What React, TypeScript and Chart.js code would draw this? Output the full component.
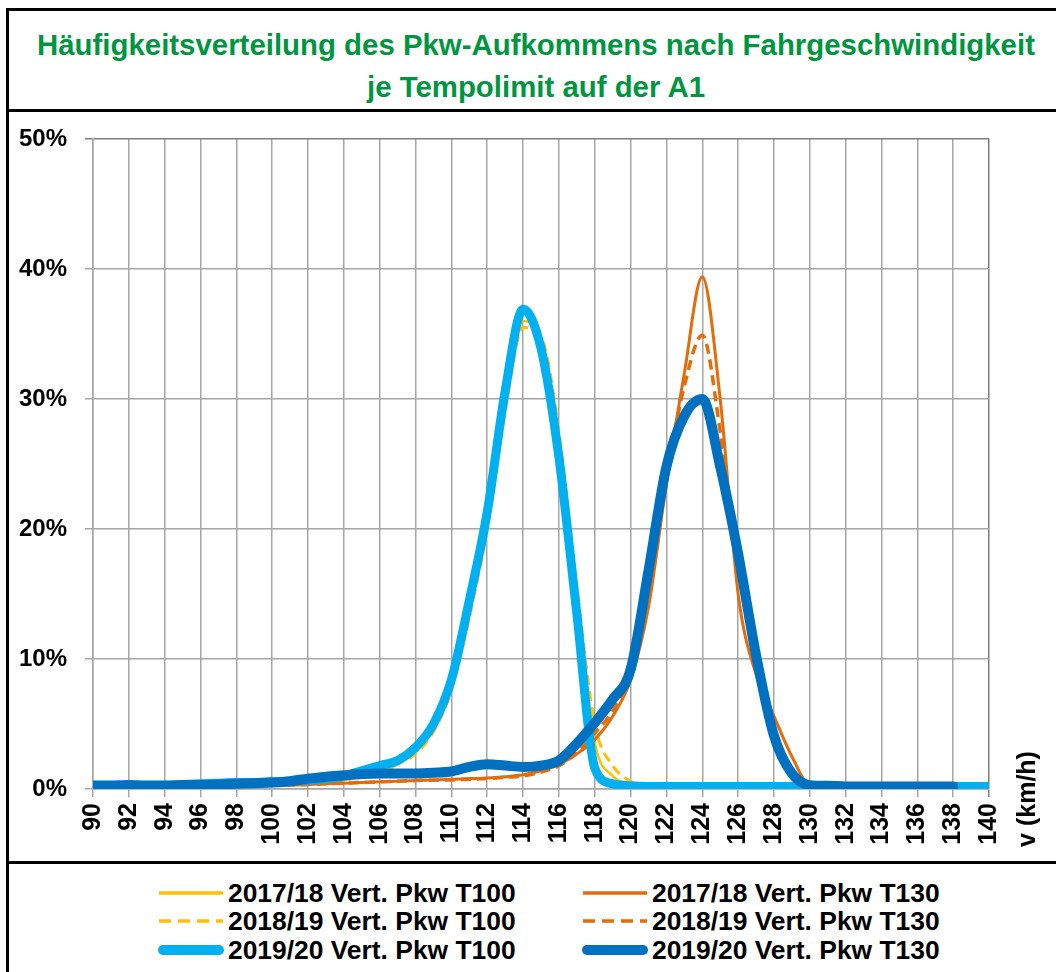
import React, { useEffect, useRef } from "react";
import { Chart, registerables } from "chart.js";

Chart.register(...registerables);

const FONT = "'Liberation Sans', Arial, sans-serif";

const TITLE_LINES = [
  "Häufigkeitsverteilung des Pkw-Aufkommens nach Fahrgeschwindigkeit",
  "je Tempolimit auf der A1",
];

const X_TITLE = "v (km/h)";

const SPEEDS = [
  90, 91, 92, 93, 94, 95, 96, 97, 98, 99, 100, 101, 102, 103, 104, 105, 106, 107, 108, 109,
  110, 111, 112, 113, 114, 115, 116, 117, 118, 119, 120, 121, 122, 123, 124, 125, 126, 127, 128, 129,
  130, 131, 132, 133, 134, 135, 136, 137, 138, 139, 140,
];

// T100 series (90..140)
const T100_1718 = [
  0.2, 0.2, 0.2, 0.2, 0.2, 0.2, 0.25, 0.25, 0.3, 0.3, 0.35, 0.4, 0.45, 0.55, 0.7, 0.95, 1.3, 1.9, 2.9, 4.6,
  7.9, 13.6, 20.6, 29.6, 36.0, 34.6, 27.0, 15.0, 3.6, 1.0, 0.4, 0.2, 0.2, 0.2, 0.2, 0.2, 0.2, 0.2, 0.2, 0.2,
  0.2, 0.2, 0.2, 0.2, 0.2, 0.2, 0.2, 0.2, 0.2, 0.2, 0.2,
];
const T100_1819 = [
  0.2, 0.2, 0.2, 0.2, 0.2, 0.2, 0.25, 0.25, 0.3, 0.3, 0.35, 0.4, 0.45, 0.55, 0.7, 0.95, 1.3, 1.9, 2.7, 4.4,
  7.6, 13.2, 20.0, 29.0, 35.5, 34.8, 27.5, 15.5, 5.0, 1.8, 0.6, 0.25, 0.2, 0.2, 0.2, 0.2, 0.2, 0.2, 0.2, 0.2,
  0.2, 0.2, 0.2, 0.2, 0.2, 0.2, 0.2, 0.2, 0.2, 0.2, 0.2,
];
const T100_1920 = [
  0.3, 0.3, 0.3, 0.3, 0.3, 0.35, 0.4, 0.45, 0.5, 0.5, 0.55, 0.6, 0.7, 0.8, 1.0, 1.4, 1.8, 2.2, 3.2, 5.0,
  8.4, 14.5, 21.3, 30.6, 36.9, 33.9, 25.5, 13.5, 1.6, 0.4, 0.25, 0.2, 0.2, 0.2, 0.2, 0.2, 0.2, 0.2, 0.2, 0.2,
  0.2, 0.2, 0.2, 0.2, 0.2, 0.2, 0.2, 0.2, 0.2, 0.2, 0.2,
];

// T130 series (90..138)
const T130_1718 = [
  0.2, 0.2, 0.2, 0.2, 0.2, 0.2, 0.2, 0.25, 0.25, 0.25, 0.3, 0.3, 0.35, 0.4, 0.45, 0.5, 0.55, 0.6, 0.65, 0.7,
  0.75, 0.8, 0.85, 0.95, 1.1, 1.4, 1.9, 2.7, 3.8, 5.6, 8.4, 14.0, 23.5, 32.0, 39.4, 30.0, 15.0, 8.8, 5.6, 2.5,
  0.3, 0.2, 0.2, 0.2, 0.2, 0.2, 0.2, 0.2, 0.2,
];
const T130_1819 = [
  0.2, 0.2, 0.2, 0.2, 0.2, 0.2, 0.2, 0.25, 0.25, 0.25, 0.3, 0.3, 0.35, 0.4, 0.45, 0.5, 0.55, 0.6, 0.65, 0.68,
  0.7, 0.75, 0.8, 0.9, 1.0, 1.3, 1.8, 2.8, 4.3, 6.0, 8.8, 15.5, 24.0, 31.0, 34.9, 27.5, 17.0, 9.5, 4.5, 1.5,
  0.3, 0.2, 0.2, 0.2, 0.2, 0.2, 0.2, 0.2, 0.2,
];
const T130_1920 = [
  0.25, 0.25, 0.3, 0.25, 0.25, 0.3, 0.3, 0.35, 0.4, 0.45, 0.5, 0.6, 0.8, 0.95, 1.05, 1.15, 1.2, 1.2, 1.2, 1.25,
  1.35, 1.7, 1.9, 1.8, 1.7, 1.8, 2.2, 3.5, 5.1, 6.9, 9.2, 16.8, 24.8, 28.7, 30.0, 24.8, 18.1, 10.3, 4.1, 1.2,
  0.3, 0.25, 0.2, 0.2, 0.2, 0.2, 0.2, 0.2, 0.2,
];

const Y_TICKS = [0, 10, 20, 30, 40, 50];

const YELLOW = "#FFC000";
const ORANGE = "#E46C0A";
const LIGHT_BLUE = "#00B0F0";
const DARK_BLUE = "#0070C0";

type Series = {
  label: string;
  values: number[];
  color: string;
  width: number;
  dash: number[];
  order: number;
};

const SERIES: Series[] = [
  { label: "2017/18 Vert. Pkw T100", values: T100_1718, color: YELLOW, width: 2.5, dash: [], order: 5 },
  { label: "2018/19 Vert. Pkw T100", values: T100_1819, color: YELLOW, width: 3, dash: [10, 6], order: 4 },
  { label: "2019/20 Vert. Pkw T100", values: T100_1920, color: LIGHT_BLUE, width: 9, dash: [], order: 1 },
  { label: "2017/18 Vert. Pkw T130", values: T130_1718, color: ORANGE, width: 3, dash: [], order: 3 },
  { label: "2018/19 Vert. Pkw T130", values: T130_1819, color: ORANGE, width: 3.5, dash: [10, 6], order: 2 },
  { label: "2019/20 Vert. Pkw T130", values: T130_1920, color: DARK_BLUE, width: 10, dash: [], order: 0 },
];

const xTitlePlugin = {
  id: "xTitleRight",
  afterDraw(chart: any) {
    const { ctx, chartArea } = chart;
    ctx.save();
    ctx.translate(chartArea.right + 39, chartArea.bottom + 10);
    ctx.rotate(-Math.PI / 2);
    ctx.font = `bold 25px ${FONT}`;
    ctx.fillStyle = "#000";
    ctx.textAlign = "center";
    ctx.textBaseline = "middle";
    ctx.fillText(X_TITLE, 0, 0);
    ctx.restore();
  },
};

function LegendSample({ s }: { s: Series }) {
  const thick = s.width > 5;
  return (
    <svg width={70} height={20} style={{ position: "absolute", left: 0, top: -10 }}>
      <line
        x1={thick ? 6 : 2}
        y1={10}
        x2={thick ? 62 : 66}
        y2={10}
        stroke={s.color}
        strokeWidth={thick ? 10 : 3.5}
        strokeLinecap={thick ? "round" : "butt"}
        strokeDasharray={s.dash.length ? "12 7" : undefined}
      />
    </svg>
  );
}

export default function App() {
  const canvasRef = useRef<HTMLCanvasElement | null>(null);

  useEffect(() => {
    const canvas = canvasRef.current;
    if (!canvas) return;
    const chart = new Chart(canvas, {
      type: "line",
      data: {
        datasets: SERIES.map((s) => ({
          label: s.label,
          data: s.values.map((v, i) => ({ x: SPEEDS[i], y: v })),
          borderColor: s.color,
          backgroundColor: s.color,
          borderWidth: s.width,
          borderDash: s.dash,
          borderJoinStyle: "round" as const,
          borderCapStyle: (s.width > 5 ? "round" : "butt") as any,
          pointRadius: 0,
          pointHoverRadius: 0,
          cubicInterpolationMode: "monotone" as const,
          fill: false,
          order: s.order,
        })),
      },
      plugins: [xTitlePlugin],
      options: {
        responsive: false,
        animation: false,
        devicePixelRatio: 1,
        layout: { autoPadding: false, padding: { left: 0, right: 67, top: 27, bottom: 0 } },
        plugins: {
          legend: { display: false },
          tooltip: { enabled: false },
          title: { display: false },
        },
        scales: {
          x: {
            type: "linear",
            min: 90,
            max: 140,
            afterFit: (scale: any) => {
              scale.height = 72;
              scale.paddingLeft = 0;
              scale.paddingRight = 0;
            },
            ticks: {
              stepSize: 2,
              autoSkip: false,
              maxRotation: 90,
              minRotation: 90,
              padding: 6,
              color: "#000",
              font: { family: FONT, size: 25, weight: "bold" },
            },
            grid: {
              color: (ctx: any) => (ctx.tick && ctx.tick.value === 140 ? "#7F7F7F" : "#A6A6A6"),
              lineWidth: 1.5,
              tickLength: 8,
            },
            border: { color: "#A6A6A6", width: 1.5 },
          },
          y: {
            type: "linear",
            min: 0,
            max: 50,
            afterFit: (scale: any) => {
              scale.width = 93;
              scale.paddingTop = 0;
              scale.paddingBottom = 0;
            },
            afterBuildTicks: (scale: any) => {
              scale.ticks = Y_TICKS.map((v) => ({ value: v }));
            },
            ticks: {
              padding: 18,
              color: "#000",
              callback: (v: any) => `${v}%`,
              font: { family: FONT, size: 24, weight: "bold" },
            },
            grid: {
              color: (ctx: any) => (ctx.tick && ctx.tick.value === 50 ? "#7F7F7F" : "#A6A6A6"),
              lineWidth: 1.5,
              tickLength: 8,
            },
            border: { color: "#A6A6A6", width: 1.5 },
          },
        },
      },
    });
    return () => chart.destroy();
  }, []);

  const legendRows = [893, 921, 950];
  const leftCol = [SERIES[0], SERIES[1], SERIES[2]];
  const rightCol = [SERIES[3], SERIES[4], SERIES[5]];

  return (
    <div
      style={{
        position: "absolute",
        left: 0,
        top: 0,
        width: 1056,
        height: 972,
        background: "#fff",
        fontFamily: FONT,
        overflow: "hidden",
      }}
    >
      {TITLE_LINES.map((t, i) => (
        <div
          key={t}
          style={{
            position: "absolute",
            left: 8,
            width: 1056,
            top: 25 + i * 42,
            height: 40,
            lineHeight: "40px",
            textAlign: "center",
            color: "#00963F",
            fontWeight: "bold",
            fontSize: 29.4,
            whiteSpace: "nowrap",
          }}
        >
          {t}
        </div>
      ))}

      <canvas
        ref={canvasRef}
        width={1056}
        height={749}
        style={{ position: "absolute", left: 0, top: 112, width: 1056, height: 749 }}
      />

      {legendRows.map((cy, i) => (
        <React.Fragment key={i}>
          <div style={{ position: "absolute", left: 157, top: cy }}>
            <LegendSample s={leftCol[i]} />
          </div>
          <div
            style={{
              position: "absolute",
              left: 228,
              top: cy - 15,
              height: 30,
              lineHeight: "30px",
              fontSize: 26.4,
              fontWeight: "bold",
              color: "#000",
              whiteSpace: "nowrap",
            }}
          >
            {leftCol[i].label}
          </div>
          <div style={{ position: "absolute", left: 581, top: cy }}>
            <LegendSample s={rightCol[i]} />
          </div>
          <div
            style={{
              position: "absolute",
              left: 652,
              top: cy - 15,
              height: 30,
              lineHeight: "30px",
              fontSize: 26.4,
              fontWeight: "bold",
              color: "#000",
              whiteSpace: "nowrap",
            }}
          >
            {rightCol[i].label}
          </div>
        </React.Fragment>
      ))}

      <div style={{ position: "absolute", left: 6, top: 8, width: 1050, height: 3, background: "#000" }} />
      <div style={{ position: "absolute", left: 6, top: 8, width: 2.5, height: 964, background: "#000" }} />
      <div style={{ position: "absolute", left: 6, top: 109, width: 1050, height: 3, background: "#000" }} />
      <div style={{ position: "absolute", left: 6, top: 861, width: 1050, height: 3, background: "#000" }} />
    </div>
  );
}
